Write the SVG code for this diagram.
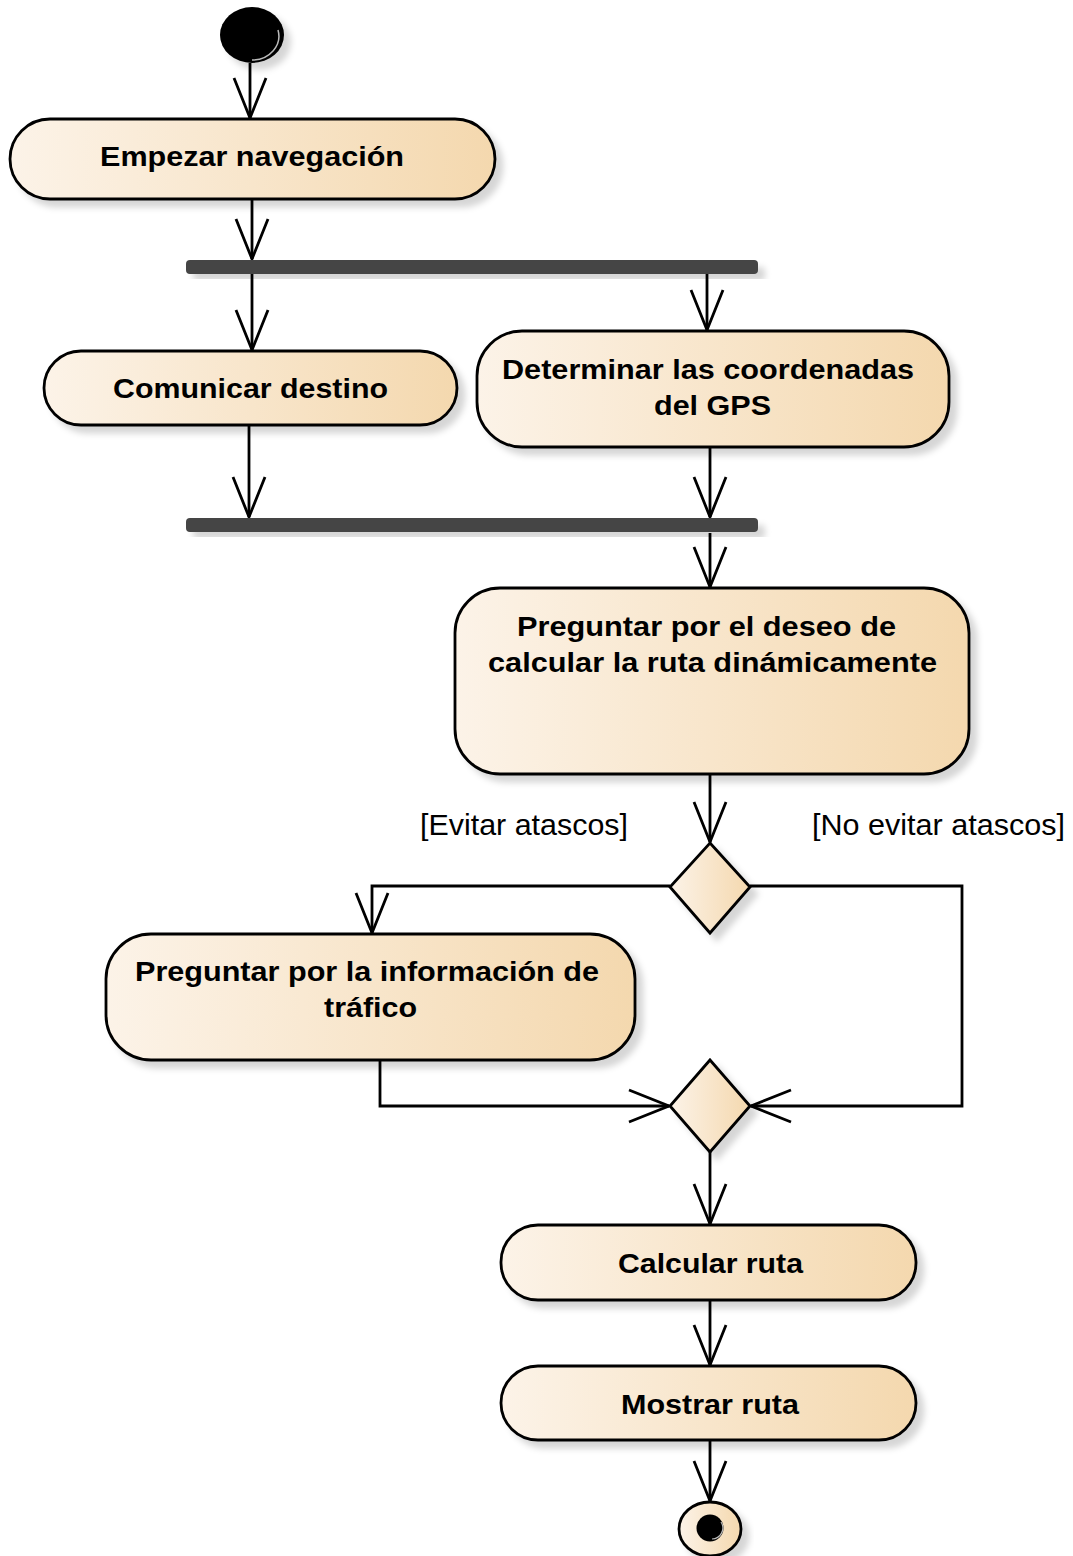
<svg xmlns="http://www.w3.org/2000/svg" width="1073" height="1556" viewBox="0 0 1073 1556">
<defs>
<linearGradient id="fillG" x1="0" y1="0" x2="1" y2="0">
<stop offset="0" stop-color="#fcf3e8"/>
<stop offset="1" stop-color="#f4d8ae"/>
</linearGradient>
<filter id="sh" x="-10%" y="-10%" width="130%" height="140%">
<feDropShadow dx="7" dy="7" stdDeviation="3" flood-color="#000" flood-opacity="0.16"/>
</filter>
<marker id="arr" markerUnits="userSpaceOnUse" markerWidth="48" markerHeight="40" viewBox="0 0 48 40" refX="44" refY="20" orient="auto">
<path d="M4,4 L44,20 L4,36" fill="none" stroke="#000" stroke-width="2.8"/>
</marker>
<style>
.act{fill:url(#fillG);stroke:#000;stroke-width:2.8;filter:url(#sh)}
.bar{fill:#444;filter:url(#sh)}
.t{font-family:"Liberation Sans",Arial,sans-serif;font-weight:bold;font-size:28px;fill:#000;text-anchor:middle}
.lbl{font-family:"Liberation Sans",Arial,sans-serif;font-size:29px;fill:#000;text-anchor:middle}
.c{fill:none;stroke:#000;stroke-width:2.8;marker-end:url(#arr)}
</style>
</defs>
<rect width="1073" height="1556" fill="#fff"/>

<g id="connectors">
<path class="c" d="M250,63 L250,118"/>
<path class="c" d="M252,200 L252,259"/>
<path class="c" d="M252,274 L252,350"/>
<path class="c" d="M707,274 L707,330"/>
<path class="c" d="M249,426 L249,517"/>
<path class="c" d="M710,448 L710,517"/>
<path class="c" d="M710,533 L710,587"/>
<path class="c" d="M710,774 L710,842"/>
<path class="c" d="M670,886 L372,886 L372,933"/>
<path class="c" d="M750,886 L962,886 L962,1106 L751,1106"/>
<path class="c" d="M380,1060 L380,1106 L669,1106"/>
<path class="c" d="M710,1152 L710,1224"/>
<path class="c" d="M710,1301 L710,1365"/>
<path class="c" d="M710,1441 L710,1501"/>
<text class="lbl" x="524" y="835" textLength="208" lengthAdjust="spacingAndGlyphs">[Evitar atascos]</text>
<text class="lbl" x="938.5" y="835" textLength="253" lengthAdjust="spacingAndGlyphs">[No evitar atascos]</text>
</g>

<g id="start">
<ellipse cx="252" cy="35" rx="32" ry="28" fill="#000" filter="url(#sh)"/>
<path d="M278,30 A27,24 0 0 1 252,60" fill="none" stroke="#bbb" stroke-width="1.5"/>
</g>

<g id="empezar">
<rect class="act" x="10" y="119" width="485" height="80" rx="40" ry="40"/>
<text class="t" x="252" y="166" textLength="304" lengthAdjust="spacingAndGlyphs">Empezar navegación</text>
</g>

<g id="fork">
<rect class="bar" x="186" y="260" width="572" height="14" rx="4"/>
</g>

<g id="comunicar">
<rect class="act" x="44" y="351" width="413" height="74" rx="37" ry="37"/>
<text class="t" x="250.5" y="398" textLength="275" lengthAdjust="spacingAndGlyphs">Comunicar destino</text>
</g>

<g id="determinar">
<rect class="act" x="477" y="331" width="472" height="116" rx="45" ry="45"/>
<text class="t" x="708" y="379" textLength="412" lengthAdjust="spacingAndGlyphs">Determinar las coordenadas</text>
<text class="t" x="712.5" y="415" textLength="117" lengthAdjust="spacingAndGlyphs">del GPS</text>
</g>

<g id="join">
<rect class="bar" x="186" y="518" width="572" height="14" rx="4"/>
</g>

<g id="preguntarDeseo">
<rect class="act" x="455" y="588" width="514" height="186" rx="45" ry="45"/>
<text class="t" x="706.5" y="636" textLength="379" lengthAdjust="spacingAndGlyphs">Preguntar por el deseo de</text>
<text class="t" x="712.5" y="672" textLength="449" lengthAdjust="spacingAndGlyphs">calcular la ruta dinámicamente</text>
</g>

<g id="decision">
<path class="act" d="M710,843 L750,887 L710,933 L670,887 Z"/>
</g>

<g id="preguntarInfo">
<rect class="act" x="106" y="934" width="529" height="126" rx="45" ry="45"/>
<text class="t" x="367" y="981" textLength="464" lengthAdjust="spacingAndGlyphs">Preguntar por la información de</text>
<text class="t" x="370.5" y="1017" textLength="93" lengthAdjust="spacingAndGlyphs">tráfico</text>
</g>

<g id="merge">
<path class="act" d="M710,1060 L750,1106 L710,1152 L670,1106 Z"/>
</g>

<g id="calcular">
<rect class="act" x="501" y="1225" width="415" height="75" rx="37" ry="37"/>
<text class="t" x="710.5" y="1273" textLength="185" lengthAdjust="spacingAndGlyphs">Calcular ruta</text>
</g>

<g id="mostrar">
<rect class="act" x="501" y="1366" width="415" height="74" rx="37" ry="37"/>
<text class="t" x="710" y="1414" textLength="178" lengthAdjust="spacingAndGlyphs">Mostrar ruta</text>
</g>

<g id="final">
<ellipse class="act" cx="710" cy="1529" rx="31" ry="27"/>
<ellipse cx="710" cy="1528" rx="13.5" ry="13.5" fill="#000"/>
<path d="M721,1522 A11,11 0 0 1 712,1539" fill="none" stroke="#bbb" stroke-width="1.2"/>
</g>
</svg>
